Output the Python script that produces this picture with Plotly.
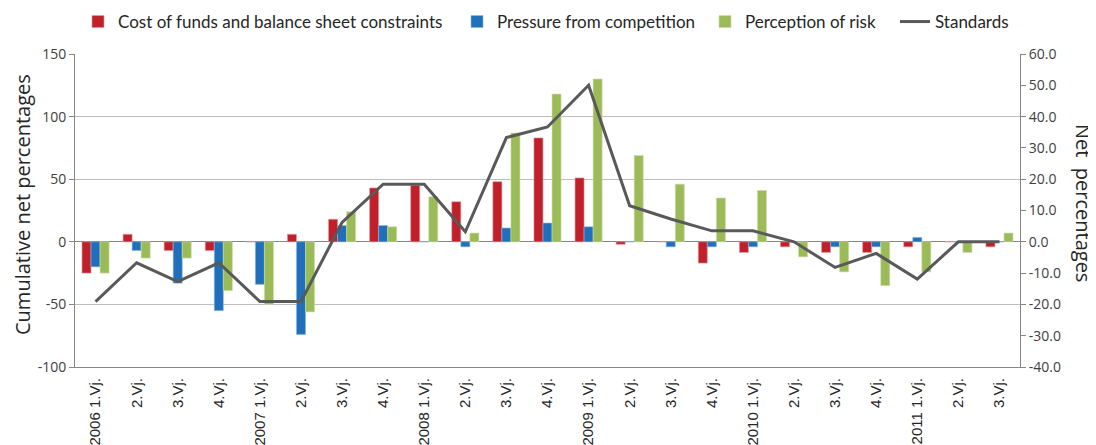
import plotly.graph_objects as go

quarters = ["2006 1.Vj.", "2.Vj.", "3.Vj.", "4.Vj.",
            "2007 1.Vj.", "2.Vj.", "3.Vj.", "4.Vj.",
            "2008 1.Vj.", "2.Vj.", "3.Vj.", "4.Vj.",
            "2009 1.Vj.", "2.Vj.", "3.Vj.", "4.Vj.",
            "2010 1.Vj.", "2.Vj.", "3.Vj.", "4.Vj.",
            "2011 1.Vj.", "2.Vj.", "3.Vj."]

cost_of_funds = [-25, 6, -7, -7, 0, 6, 18, 43, 45, 32, 48, 83, 51, -2, 0, -17,
                 -8.5, -4, -8.5, -8.5, -4, 0, -4]
competition = [-20, -7, -33, -55, -34, -74, 13, 13, 0, -4, 11, 15, 12, 0, -4, -4,
               -4, 0, -4, -4, 3.5, 0, 0]
risk = [-25, -13, -13, -39, -50, -56, 24, 12, 36, 7, 87, 118, 130, 69, 46, 35,
        41, -12, -24, -35, -24, -8.5, 7]
standards = [-19.1, -6.7, -12.7, -6.7, -19.1, -19.1, 6.2, 18.4, 18.4, 3.2, 33.3, 36.7,
             50.0, 11.5, 7.3, 3.5, 3.5, 0.0, -8.2, -3.7, -11.9, 0.0, 0.0]

left_ticks = [-100, -50, 0, 50, 100, 150]
left_ticktext = ["-100", "-50", "0", "50", "100", "150"]
right_ticks = [-40, -30, -20, -10, 0, 10, 20, 30, 40, 50, 60]
right_ticktext = ["-40.0", "-30.0", "-20.0", "-10.0", "0.0", "10.0", "20.0",
                  "30.0", "40.0", "50.0", "60.0"]

x_idx = list(range(len(quarters)))

RED = "#C0202A"
BLUE = "#1F6FBB"
GREEN = "#9BBB59"
LINE = "#595959"
SANS = "Open Sans, DejaVu Sans, sans-serif"
TICK_FONT = dict(family=SANS, size=14, color="#404040")
TITLE_FONT = dict(family=SANS, size=20, color="#262626")
LEG_FONT = dict(family="Lato, sans-serif", size=17, color="#262626")

# page body has an 8px offset; figure is sized so the plot lands where the reference has it
W, H = 1088, 437
ML, MR, MT, MB = 67, 76, 46, 78
PW = W - ML - MR
PH = H - MT - MB


def px_x(px):
    return (px - 8 - ML) / PW


def px_y(py):
    return (H - MB - (py - 8)) / PH


def legend_at(text_start_px):
    return dict(orientation="h", x=(text_start_px - 48) / W, y=1 - 14 / H,
                xref="container", yref="container", xanchor="left", yanchor="middle",
                font=LEG_FONT, itemwidth=30, bgcolor="rgba(0,0,0,0)")


fig = go.Figure()
fig.add_trace(go.Bar(x=x_idx, y=cost_of_funds, name="Cost of funds and balance sheet constraints",
                     marker=dict(color=RED, line=dict(color="#E49AA0", width=0.6)), legend="legend"))
fig.add_trace(go.Bar(x=x_idx, y=competition, name="Pressure from competition",
                     marker=dict(color=BLUE, line=dict(color="#8FB7DD", width=0.6)), legend="legend2"))
fig.add_trace(go.Bar(x=x_idx, y=risk, name="Perception of risk",
                     marker=dict(color=GREEN, line=dict(color="#CDDDAC", width=0.6)), legend="legend3"))
fig.add_trace(go.Scatter(x=x_idx, y=standards, name="Standards", mode="lines",
                         line=dict(color=LINE, width=3), yaxis="y2", legend="legend4"))

fig.update_layout(
    width=W, height=H,
    margin=dict(l=ML, r=MR, t=MT, b=MB, autoexpand=False),
    paper_bgcolor="white", plot_bgcolor="white",
    barmode="group", bargap=0.34, bargroupgap=0,
    font=dict(family=SANS, color="#262626"),
    showlegend=True,
    legend=legend_at(118),
    legend2=legend_at(497),
    legend3=legend_at(745),
    legend4=legend_at(935),
    xaxis=dict(tickmode="array", tickvals=x_idx, ticktext=quarters, tickangle=-90,
               range=[-0.5, len(quarters) - 0.5], showgrid=False, zeroline=False,
               showline=True, linecolor="#868686", linewidth=1, mirror=False,
               ticks="", ticklabelstandoff=4,
               tickfont=dict(family="Liberation Sans, Arial, sans-serif", size=15, color="#262626"),
               automargin=False),
    yaxis=dict(range=[-100, 150], tickmode="array", tickvals=left_ticks, ticktext=left_ticktext,
               showgrid=True, gridcolor="#BFBFBF",
               gridwidth=1, zeroline=True, zerolinecolor="#868686", zerolinewidth=1,
               showline=True, linecolor="#868686", ticks="outside", ticklen=5,
               tickcolor="#868686", tickfont=TICK_FONT, automargin=False),
    yaxis2=dict(range=[-40, 60], tickmode="array", tickvals=right_ticks, ticktext=right_ticktext,
                overlaying="y", side="right",
                showgrid=False, zeroline=False, showline=True, linecolor="#868686",
                ticks="outside", ticklen=5, tickcolor="#868686",
                tickfont=TICK_FONT, automargin=False),
    annotations=[
        dict(text="Cumulative net percentages", textangle=-90, xref="paper", yref="paper",
             x=px_x(22), y=px_y(205), xanchor="center", yanchor="middle", showarrow=False,
             font=TITLE_FONT),
        dict(text="Net  percentages", textangle=90, xref="paper", yref="paper",
             x=px_x(1084), y=px_y(203), xanchor="center", yanchor="middle", showarrow=False,
             font=TITLE_FONT),
    ],
)

fig.write_html("out.html")
